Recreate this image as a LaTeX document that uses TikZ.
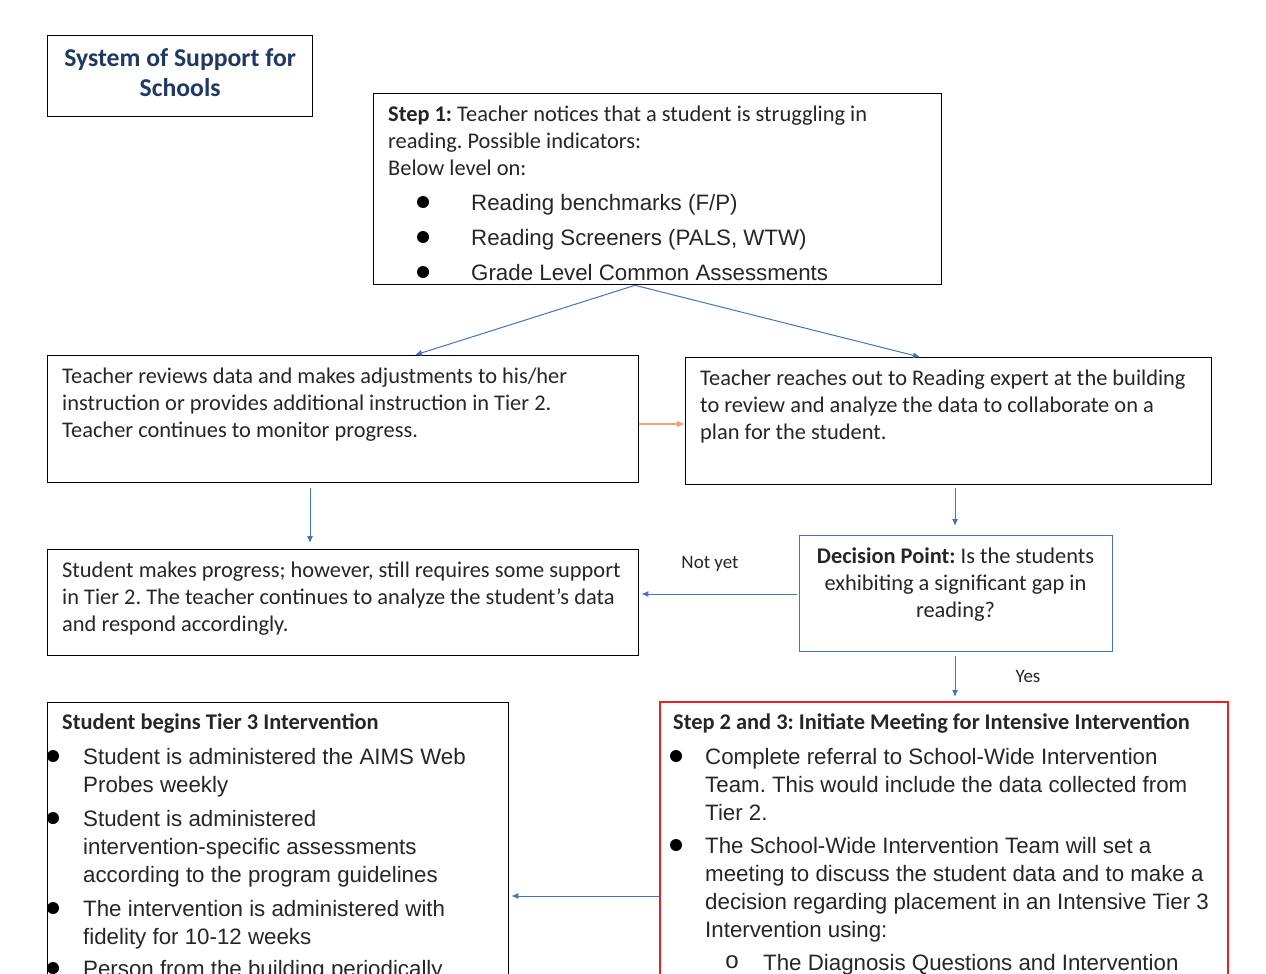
\documentclass[tikz,border=0pt]{standalone}
\usepackage{fontspec}
\setmainfont{Carlito}
\newfontfamily\arialf{Liberation Sans}
\usetikzlibrary{arrows.meta,calc}
\definecolor{navy}{HTML}{1F3864}
\definecolor{conblue}{HTML}{4472C4}
\definecolor{boxred}{RGB}{240,30,30}
\definecolor{arrorange}{HTML}{F4A070}
\definecolor{txt}{HTML}{262626}
\frenchspacing
\begin{document}
\begin{tikzpicture}[x=1pt,y=-1pt,
  box/.style={line width=1.3pt,anchor=north west,inner sep=0pt,rectangle},
  para/.style={anchor=north west,inner sep=0pt,align=left,text=txt,font=\fontsize{22.4}{27}\selectfont},
  item/.style={anchor=north west,inner sep=0pt,align=left,text=txt,font=\arialf\fontsize{22.3}{28}\selectfont},
  con/.style={draw=conblue,line width=1pt,-{Latex[length=7pt,width=6pt]}},
  ocon/.style={draw=arrorange,line width=1.2pt,-{Latex[length=8pt,width=7pt]}},
  lbl/.style={text=txt,inner sep=0pt,font=\fontsize{19}{22}\selectfont},
  bul/.style={fill=black}]
\useasboundingbox (0,0) rectangle (1266,974);
\clip (0,0) rectangle (1266,974);
\fill[white] (0,0) rectangle (1266,974);

% title
\node[box,draw=black,minimum width=265pt,minimum height=81pt] (title) at (47,35) {};
\node[text=navy,align=center,inner sep=0pt,font=\bfseries\fontsize{25.7}{30}\selectfont] (titlet) at ([yshift=3pt]title.center) {System of Support for\\Schools};

% step 1
\node[box,draw=black,minimum width=568pt,minimum height=191pt] (s1) at (373,93) {};
\node[para] (s1t) at (388,102.1) {\strut\textbf{Step 1:} Teacher notices that a student is struggling in\\\strut reading. Possible indicators:\\\strut Below level on:};
\node[item] (s1b1) at (471,190.4) {\strut Reading benchmarks (F/P)};
\node[item] (s1b2) at (471,225.4) {\strut Reading Screeners (PALS, WTW)};
\node[item] (s1b3) at (471,260.4) {\strut Grade Level Common Assessments};
\fill[bul] (423,202) circle (6pt);
\fill[bul] (423,237) circle (6pt);
\fill[bul] (423,272) circle (6pt);

% row 2
\node[box,draw=black,minimum width=591pt,minimum height=127pt] (a) at (47,355) {};
\node[para] (at) at (62,364.1) {\strut Teacher reviews data and makes adjustments to his/her\\\strut instruction or provides additional instruction in Tier 2.\\\strut Teacher continues to monitor progress.};
\node[box,draw=black,minimum width=526pt,minimum height=127pt] (b) at (685,357) {};
\node[para] (bt) at (700,366.1) {\strut Teacher reaches out to Reading expert at the building\\\strut to review and analyze the data to collaborate on a\\\strut plan for the student.};

% row 3
\node[box,draw=black,minimum width=591pt,minimum height=106pt] (c) at (47,549) {};
\node[para] (ct) at (62,558.1) {\strut Student makes progress; however, still requires some support\\\strut in Tier 2. The teacher continues to analyze the student's data\\\strut and respond accordingly.};
\node[box,draw=conblue,minimum width=313pt,minimum height=116pt] (dec) at (799,535) {};
\node[para,align=center,anchor=north] (dect) at (955.5,544.1) {\strut\textbf{Decision Point:} Is the students\\\strut exhibiting a significant gap in\\\strut reading?};

% row 4
\node[box,draw=black,minimum width=461pt,minimum height=320pt] (d) at (47,702) {};
\node[para] (dt) at (62,710.1) {\strut\textbf{Student begins Tier 3 Intervention}};
\node[item] (d1) at (83,744.4) {\strut Student is administered the AIMS Web\\\strut Probes weekly};
\node[item] (d2) at (83,806.4) {\strut Student is administered\\\strut intervention-specific assessments\\\strut according to the program guidelines};
\node[item] (d3) at (83,896.4) {\strut The intervention is administered with\\\strut fidelity for 10-12 weeks};
\node[item] (d4) at (83,956.4) {\strut Person from the building periodically};
\fill[bul] (53,756) circle (6pt);
\fill[bul] (53,818) circle (6pt);
\fill[bul] (53,908) circle (6pt);
\fill[bul] (53,968) circle (6pt);

\node[box,draw=boxred,line width=1.5pt,minimum width=568pt,minimum height=320pt] (e) at (659,701) {};
\node[para] (et) at (673,710.1) {\strut\textbf{Step 2 and 3: Initiate Meeting for Intensive Intervention}};
\node[item] (e1) at (705,744.4) {\strut Complete referral to School-Wide Intervention\\\strut Team. This would include the data collected from\\\strut Tier 2.};
\node[item] (e2) at (705,833.4) {\strut The School-Wide Intervention Team will set a\\\strut meeting to discuss the student data and to make a\\\strut decision regarding placement in an Intensive Tier 3\\\strut Intervention using:};
\node[item,anchor=center,font=\arialf\fontsize{24}{28}\selectfont] (esub) at (732,962) {o};
\node[item] (e3) at (763,950.4) {\strut The Diagnosis Questions and Intervention};
\fill[bul] (676,756) circle (6pt);
\fill[bul] (676,845) circle (6pt);

% connectors
\draw[con] (635,0 |- s1.south) -- (415,0 |- a.north);
\draw[con] (635,0 |- s1.south) -- (920,0 |- b.north);
\draw[ocon] (a.east |- 0,424) -- (b.west |- 0,424);
\draw[con,shorten <=5pt,shorten >=6pt] (310,0 |- a.south) -- (310,0 |- c.north);
\draw[con,shorten <=3pt,shorten >=9pt] (955,0 |- b.south) -- (955,0 |- dec.north);
\draw[con,shorten <=2pt,shorten >=2pt] (dec.west |- 0,594) -- (c.east |- 0,594);
\draw[con,shorten <=4pt,shorten >=4pt] (955,0 |- dec.south) -- (955,0 |- e.north);
\draw[con,shorten >=2pt] (e.west |- 0,896) -- (d.east |- 0,896);
\node[lbl] (notyet) at (710,564) {Not yet};
\node[lbl] (yes) at (1028,676) {Yes};
\end{tikzpicture}
\end{document}
